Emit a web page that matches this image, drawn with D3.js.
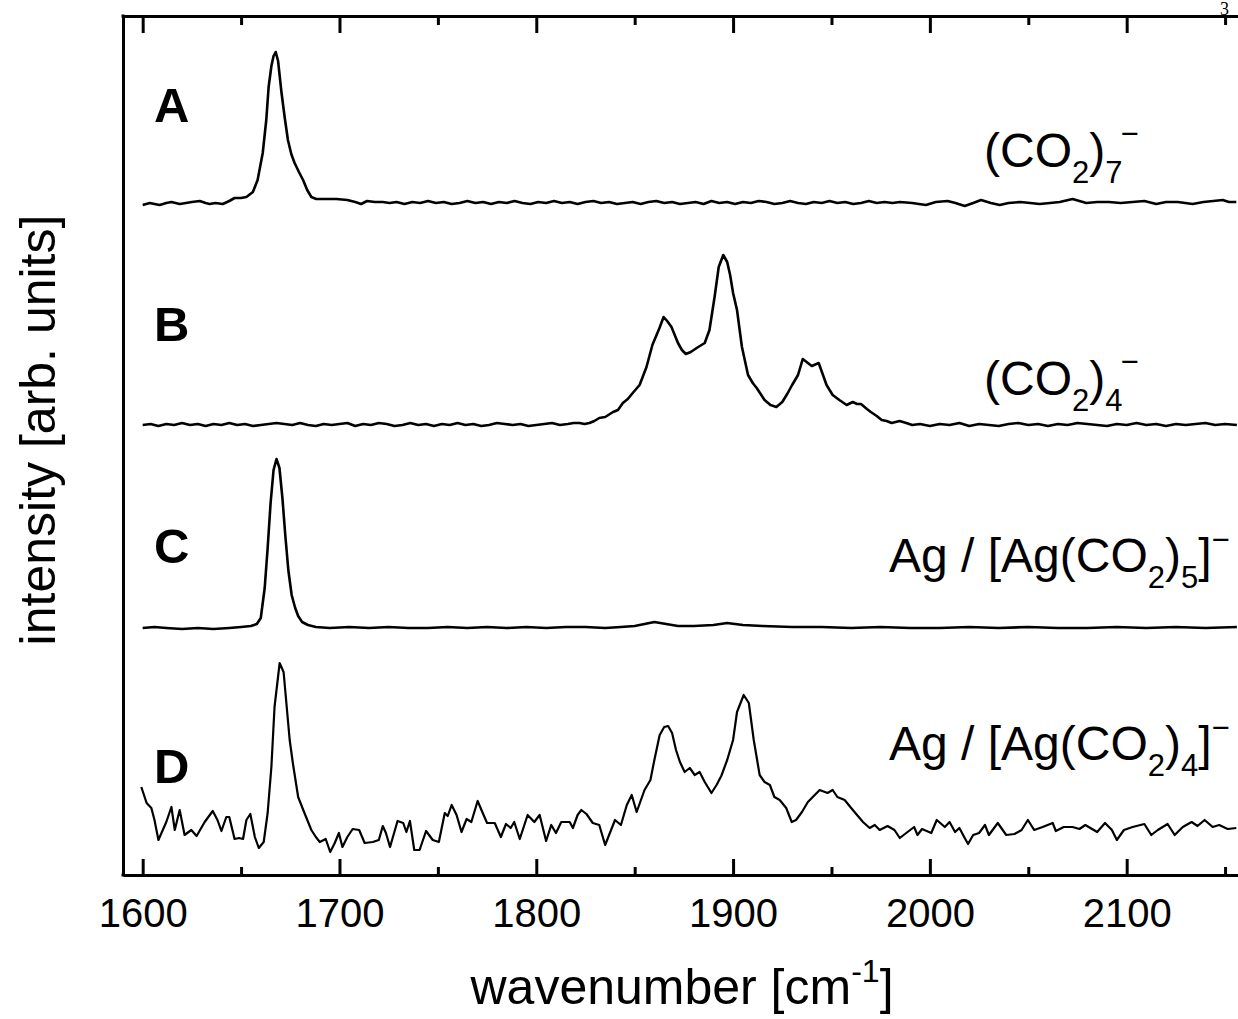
<!DOCTYPE html>
<html><head><meta charset="utf-8">
<script src="https://cdn.jsdelivr.net/npm/d3@7"></script>
<style>body{margin:0;background:#fff;} svg{display:block;}</style>
</head><body><svg id="c" width="1238" height="1019"></svg>
<script>
// ---- data (wavenumber in cm^-1, intensity in arb. units above each trace's own baseline) ----
const waveA = [1600,1603.6,1606,1608.6,1612,1614.6,1618.8,1622,1625,1629,1632,1634,1637,1640.7,1644,1646.7,1650,1652.7,1656,1658.4,1661,1662.8,1664,1665.4,1666.5,1667.6,1668.8,1670.5,1672.2,1673.8,1675.5,1677.2,1679.4,1681.5,1683.6,1685.7,1688.2,1692,1698.4,1704,1708,1711,1714,1718,1722,1725.5,1729,1733,1737,1741,1745,1749,1753,1757,1761,1765,1769,1773,1777,1781,1785,1789,1793,1797,1801,1805,1809,1813,1817,1821,1825,1829,1833,1837,1841,1845,1849,1853,1857,1861,1865,1869,1873,1877,1881,1885,1889,1893,1897,1901,1905,1909,1913,1917,1921,1925,1929,1933,1937,1941,1945,1949,1953,1957,1961,1965,1969,1973,1977,1981,1984.7,1991,1998,2003,2009,2013,2017.7,2022,2026,2031,2035.5,2040,2046,2051,2055.8,2061,2066,2072.5,2076,2079.5,2085,2091,2097,2103,2109,2115,2120,2126,2133.5,2139,2144,2148.8,2152,2155.7];
const intA  = [-1,1,0,-1,1,2,0,1,2,3,1,0,1,0,3,6,6,7,12,24,51,84,117,138,148,152,143,112,86,64,50,41,32,24,14,7,5,5,5,4,2,0,3,2,2,1,2,0,2,1,3,1,2,0,1,3,1,2,0,2,1,3,1,0,2,1,3,1,2,0,2,3,1,2,0,1,2,0,2,3,1,2,0,1,2,0,3,1,2,0,2,1,3,2,0,1,3,1,0,2,1,3,1,2,0,1,3,1,2,1,2,1,-1,2,3,1,-2,1,4,1,-1,1,2,1,0,1,2,5,3,1,2,2,1,2,3,0,2,2,0,2,3,4,2,2];

const waveB = [1600,1604,1608,1612,1616,1620,1624,1628,1632,1636,1640,1644,1648,1652,1656,1660,1664,1668,1672,1676,1680,1684,1688,1692,1696,1700,1704,1708,1712,1716,1720,1724,1728,1732,1736,1740,1744,1748,1752,1756,1760,1764,1768,1772,1776,1780,1784,1788,1792,1796,1800,1804,1808,1812,1816,1819,1822,1824.5,1827,1829.5,1832,1835,1839,1841.5,1844,1846.5,1849,1852.5,1856,1859,1862.6,1864.7,1866.5,1868.7,1872,1874,1876,1878.5,1881.5,1885.6,1888,1890.6,1892.7,1895,1897,1898.5,1900,1902,1904.5,1907.6,1910,1912,1914,1916,1919,1922,1925,1927.5,1930,1933,1935.4,1938,1940,1943.5,1947.5,1950.6,1954,1957.7,1960.8,1963,1965,1968,1970,1973,1975.5,1978,1980.6,1984.6,1988,1991,1995,2000,2005,2010,2015,2020,2025,2030,2035,2040,2045,2050,2055,2060,2065,2070,2075,2080,2085,2090,2095,2100,2105,2110,2115,2120,2125,2130,2135,2140,2145,2150,2156];
const intB  = [0,1,-1,1,0,2,0,1,-1,1,0,2,0,1,-1,0,1,2,1,0,2,0,-1,1,0,1,2,-1,1,0,2,1,-1,0,2,0,1,-1,1,0,2,0,1,-1,0,2,1,0,1,-1,0,1,2,0,1,2,2,1,2,4,7,8,13,15,22,26,32,40,58,80,97,108,104,98,82,75,71,73,77,82,95,128,158,170,163,150,132,115,78,50,42,37,31,25,20,18,23,31,40,50,66,62,59,62,40,30,25,20,23,21,21,16,13,9,5,4,2,4,2,0,1,-1,1,0,2,-1,1,0,-1,1,2,0,1,-1,1,0,2,1,0,-1,1,0,2,0,1,-1,1,0,1,2,0,1,0,1];

const waveC = [1600,1606,1612,1620,1628,1636,1644,1650,1655,1658,1660,1662,1663.5,1665,1666.5,1668,1669.5,1671,1672.5,1674,1675.7,1677.5,1679,1681,1684,1688,1695,1705,1715,1725,1735,1745,1755,1765,1775,1785,1795,1805,1815,1825,1835,1843,1850,1855,1860,1866,1872,1880,1890,1897,1905,1915,1930,1945,1960,1975,1990,2005,2020,2035,2050,2065,2080,2095,2110,2125,2140,2156];
const intC  = [0,1,0,-1,0,-1,0,1,2,4,10,40,80,125,158,169,160,130,92,58,33,20,12,6,3,1,0,1,0,1,0,0,1,0,1,0,1,0,1,1,0,1,2,4,6,4,2,2,3,5,3,2,1,1,0,1,0,0,1,0,1,0,0,1,0,1,0,1];

const waveD = [1599.3,1602,1604.4,1606,1608,1612,1614.6,1616.3,1618.8,1621.3,1624.7,1627.4,1631.5,1635.6,1638,1640,1642.5,1644,1646.7,1649,1651,1652.7,1654.7,1657,1659,1661.5,1663.5,1665.4,1667,1669.6,1671.6,1674.7,1676.3,1679,1682,1685.7,1688,1690,1693,1695.3,1697.6,1699.7,1701.5,1704,1706.7,1710,1712.8,1716.9,1720,1722,1723.6,1725.7,1729.5,1732.4,1734,1735.8,1738,1740.7,1744,1747.4,1750.5,1753.5,1755,1757,1759.5,1762,1764.6,1767,1770.2,1772.8,1775,1778.9,1782,1784.6,1787,1788.8,1791.6,1795.6,1799,1801.7,1805,1807.6,1810,1812.7,1817,1818.6,1821,1822.9,1825.5,1828.7,1832,1835,1840,1843,1846,1848.5,1851,1855,1858,1860,1862.7,1865,1867,1869,1871,1873,1875.4,1878,1880.5,1883,1885.6,1889,1891.6,1894,1897,1900,1902,1905.4,1908,1910.5,1913.5,1916,1918.7,1921,1923.7,1927,1929.8,1932,1935,1938,1940,1944,1948,1950.6,1953,1956.7,1960,1963,1966,1969.4,1972,1974.5,1978.5,1982,1984.7,1988,1992,1993.7,1996,2000.7,2003.5,2007.6,2010,2012.8,2015,2017.7,2019.4,2022,2025,2028,2030,2034.5,2038.8,2043,2046.6,2049.8,2053,2057.3,2062.4,2064,2068,2072.5,2076,2079,2082.4,2085,2089,2092.5,2095,2098.6,2103,2109,2112.5,2115.8,2120.8,2124.4,2128.5,2133,2136,2139.6,2143.7,2147,2151.3,2155.7];
const intD  = [43,27,22,10,-10,8,23,0,20,-5,0,-6,8,19,10,-1,13,13,-9,-8,-9,10,16,-7,-18,-12,17,63,123,167,158,90,67,33,18,0,-7,-12,-9,-22,-13,-3,-17,-7,1,0,-13,-12,-10,4,-3,-17,9,7,-2,9,-20,-20,-1,-10,-12,17,14,25,15,-2,11,8,29,17,7,7,-7,6,2,8,-9,15,8,15,-11,5,-3,8,8,2,15,20,16,7,5,-15,10,5,25,35,18,40,50,70,95,103,104,97,80,68,58,62,55,58,48,37,45,54,70,90,118,135,127,90,55,48,45,33,30,22,8,10,18,28,32,40,37,40,33,30,22,15,8,2,5,0,4,0,-8,-3,3,-5,1,-3,10,3,8,-2,2,-8,-14,-5,-3,5,-5,7,-5,-4,0,10,0,3,7,-1,3,3,1,5,1,-2,7,0,-10,0,3,6,-5,0,6,-5,3,8,4,10,3,5,1,2];

const seriesNames = ["A","B","C","D"];
const seriesOffsets = [671, 450, 247, 45];
const majorTicks = [1600,1700,1800,1900,2000,2100];
const minorTicks = [1650,1750,1850,1950,2050,2150];

// ---- layout ----
const svg = d3.select("#c");
const FONT = "'Liberation Sans', Arial, Helvetica, sans-serif";
const x = d3.scaleLinear().domain([1590, 2170]).range([123, 123 + 580 * 1.968]);
const y = d3.scaleLinear().domain([0, 859]).range([875, 16]);

svg.append("defs").append("clipPath").attr("id","clip")
  .append("rect").attr("x",123).attr("y",16).attr("width",1200).attr("height",859);

const data = [[waveA,intA],[waveB,intB],[waveC,intC],[waveD,intD]];
const line = d3.line().x(d => x(d[0])).y(d => y(d[1]));
const g = svg.append("g").attr("clip-path","url(#clip)");
data.forEach(([w,v],i) => {
  const pts = w.map((wv,j) => [wv, v[j] + seriesOffsets[i]]);
  g.append("path").datum(pts).attr("d", line)
    .attr("fill","none").attr("stroke","#000")
    .attr("stroke-width", i === 3 ? 2.2 : 2.6).attr("stroke-linejoin","round");
});

// axes
function styleAxis(sel){
  sel.selectAll("path.domain").attr("stroke","#000").attr("stroke-width",3);
  sel.selectAll(".tick line").attr("stroke","#000").attr("stroke-width",3);
  sel.selectAll(".tick text").attr("font-family",FONT).attr("font-size",40).attr("fill","#000");
}
const bx = svg.append("g").attr("transform","translate(0,875)")
  .call(d3.axisBottom(x).tickValues(majorTicks).tickSizeInner(-16).tickSizeOuter(0).tickPadding(23.5).tickFormat(d3.format("d")));
styleAxis(bx);
const bxm = svg.append("g").attr("transform","translate(0,875)")
  .call(d3.axisBottom(x).tickValues(minorTicks).tickSizeInner(-8).tickSizeOuter(0).tickFormat(""));
styleAxis(bxm); bxm.select("path.domain").remove();
const tx = svg.append("g").attr("transform","translate(0,16)")
  .call(d3.axisTop(x).tickValues(majorTicks).tickSizeInner(-17).tickSizeOuter(0).tickFormat(""));
styleAxis(tx);
const txm = svg.append("g").attr("transform","translate(0,16)")
  .call(d3.axisTop(x).tickValues(minorTicks).tickSizeInner(-9).tickSizeOuter(0).tickFormat(""));
styleAxis(txm); txm.select("path.domain").remove();
const ly = svg.append("g").attr("transform","translate(123,0)")
  .call(d3.axisLeft(y).tickValues([]).tickSizeOuter(0));
styleAxis(ly);
svg.append("rect").attr("x",121.5).attr("y",14.5).attr("width",3).attr("height",3).attr("fill","#000");
svg.append("rect").attr("x",121.5).attr("y",873.5).attr("width",3).attr("height",3).attr("fill","#000");

// axis titles
svg.append("text").attr("transform","translate(55,430) rotate(-90)")
  .attr("text-anchor","middle").attr("font-family",FONT).attr("font-size",50)
  .text("intensity [arb. units]");
const xt = svg.append("text").attr("x",682).attr("y",1004).attr("text-anchor","middle")
  .attr("font-family",FONT).attr("font-size",50);
xt.append("tspan").text("wavenumber [cm");
xt.append("tspan").attr("font-size",32).attr("dy",-22).text("-1");
xt.append("tspan").attr("dy",22).text("]");

// panel letters
const letterY = [122, 341, 563, 783];
seriesNames.forEach((n,i) => {
  svg.append("text").attr("x",154).attr("y",letterY[i]).attr("font-family",FONT)
    .attr("font-weight","bold").attr("font-size",49).text(n);
});

// species labels
function species(xp, yp, fs, parts){
  const t = svg.append("text").attr("x",xp).attr("y",yp).attr("font-family",FONT).attr("font-size",fs);
  parts.forEach(p => {
    const s = t.append("tspan").text(p.t);
    if (p.fs) s.attr("font-size", p.fs);
    if (p.dy) s.attr("dy", p.dy);
    if (p.dx) s.attr("dx", p.dx);
  });
}
species(984, 167, 48, [{t:"(CO"},{t:"2",fs:31,dy:16},{t:")",dy:-16},{t:"7",fs:31,dy:16},{t:"\u2212",fs:31,dy:-39,dx:-2}]);
species(984, 395, 48, [{t:"(CO"},{t:"2",fs:31,dy:16},{t:")",dy:-16},{t:"4",fs:31,dy:16},{t:"\u2212",fs:31,dy:-39,dx:-2}]);
species(889, 572, 48, [{t:"Ag / [Ag(CO"},{t:"2",fs:31,dy:16},{t:")",dy:-16},{t:"5",fs:31,dy:16},{t:"]",dy:-16},{t:"\u2212",fs:31,dy:-22}]);
species(889, 760, 48, [{t:"Ag / [Ag(CO"},{t:"2",fs:31,dy:16},{t:")",dy:-16},{t:"4",fs:31,dy:16},{t:"]",dy:-16},{t:"\u2212",fs:31,dy:-22}]);

// page number fragment
svg.append("text").attr("x",1220).attr("y",15).attr("font-family","'Liberation Serif', 'DejaVu Serif', serif")
  .attr("font-size",18).text("3");
</script></body></html>
